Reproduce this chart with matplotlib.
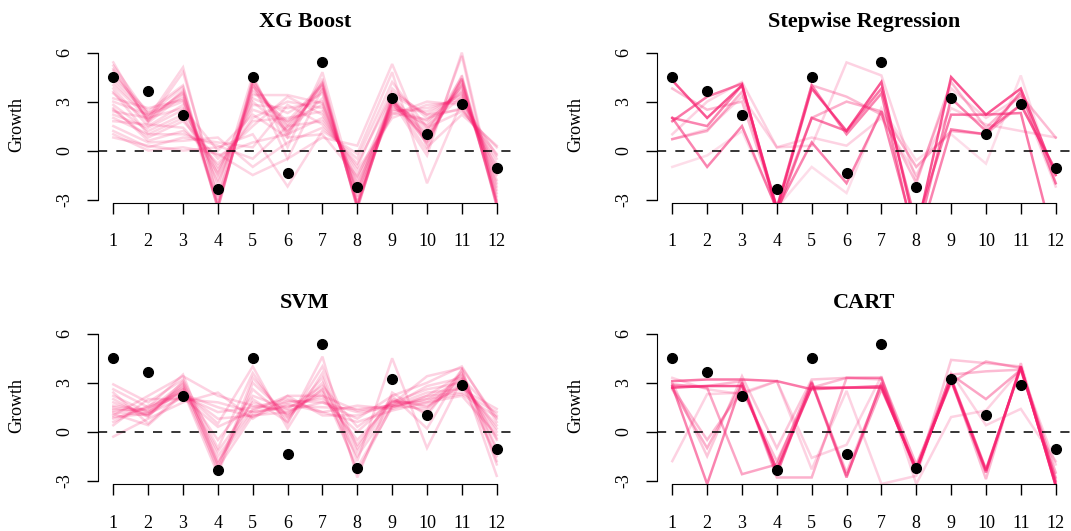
import matplotlib
matplotlib.use("Agg")
import matplotlib.pyplot as plt

plt.rcParams['font.family'] = ['Liberation Serif', 'DejaVu Serif']

months = list(range(1, 13))
tick_labels = [str(m) for m in months]
y_ticks = [-3, 0, 3, 6]

# observed growth (black points)
actual = [4.5, 3.65, 2.2, -2.35, 4.5, -1.35, 5.4, -2.25, 3.2, 1.0, 2.85, -1.05]

# predicted paths, one list per fitted model
xgb_paths = [
    [5.2, 2.2, 3.9, -3.5, 4.3, 1.0, 4.2, -3.5, 3.1, 0.5, 4.4, -3.3],
    [4.9, 1.9, 3.6, -3.3, 4.0, 1.3, 3.9, -3.4, 2.9, 0.7, 4.2, -3.1],
    [4.6, 2.4, 4.0, -3.6, 4.4, 0.8, 4.4, -3.6, 3.3, 0.4, 4.6, -3.4],
    [5.4, 1.7, 3.4, -3.2, 3.8, 1.5, 3.7, -3.3, 3.4, 0.9, 4.0, -3.0],
    [4.2, 2.1, 3.5, -2.8, 3.6, 1.8, 4.1, -3.2, 2.8, 1.1, 4.5, -2.8],
    [3.8, 1.5, 2.8, -2.0, 3.2, 2.3, 3.5, -2.8, 2.6, 1.6, 3.9, -2.4],
    [3.2, 2.6, 3.1, -1.5, 2.8, 2.6, 3.0, -2.5, 3.6, 2.2, 3.5, -2.0],
    [2.8, 1.2, 2.2, -1.0, 2.0, 3.0, 2.6, -2.0, 2.4, 2.6, 3.2, -1.5],
    [2.5, 0.8, 1.8, -0.5, 1.5, 3.3, 2.2, -1.5, 2.2, 3.0, 2.8, -1.0],
    [2.0, 1.0, 1.0, 0.3, -0.5, 1.5, 1.8, -1.0, 3.8, 2.0, 2.6, -0.5],
    [1.5, 0.5, 0.6, 0.8, -1.0, 0.5, 1.4, -0.5, 4.2, 1.4, 2.4, 0.2],
    [1.0, 0.0, 0.2, -0.2, -1.5, -0.5, 0.8, 0.3, 5.3, 0.2, 2.2, 0.3],
    [0.8, 0.3, 0.0, 0.2, 1.0, -2.2, 1.2, -0.2, 4.8, -2.0, 3.0, -0.3],
    [3.5, 1.8, 4.8, -2.5, 4.6, 0.2, 4.8, -3.0, 3.2, 0.0, 5.8, -3.5],
    [4.0, 2.0, 5.1, -3.0, 4.1, -0.5, 3.8, -3.3, 3.0, -0.3, 6.0, -3.2],
    [2.2, 1.4, 2.5, -1.2, 2.5, 1.8, 2.8, -2.2, 2.7, 1.8, 3.6, -1.8],
    [3.0, 2.2, 3.0, -1.8, 3.0, 1.2, 3.2, -2.6, 3.0, 1.3, 4.0, -2.2],
    [1.8, 1.6, 1.4, -0.8, 1.8, 2.0, 2.4, -1.8, 2.5, 2.4, 3.4, -1.2],
    [2.6, 0.6, 1.2, -0.3, 0.5, 1.0, 2.0, -1.2, 2.0, 2.8, 3.0, -0.8],
    [4.4, 2.3, 3.2, -3.4, 4.0, 1.6, 4.0, -3.5, 3.1, 0.8, 4.3, -3.3],
    [5.0, 1.8, 3.7, -3.5, 4.2, 1.1, 4.1, -3.4, 3.2, 0.6, 4.4, -3.2],
    [1.2, 0.2, 0.8, 0.5, 0.2, 2.8, 1.6, -0.8, 3.4, 2.2, 2.5, -0.2],
    [3.6, 1.0, 2.0, -1.4, 3.4, 3.4, 2.9, -2.4, 2.3, 1.9, 3.7, -2.6],
    [2.4, 2.0, 2.6, 0.0, 2.2, 0.8, 1.0, -1.6, 2.9, 1.5, 3.3, -1.4],
]

step_paths = [
    [4.3, 2.0, 4.0, -3.6, 3.8, 1.2, 4.2, -5.0, 4.5, 2.2, 3.8, -1.5],
    [1.8, 3.3, 4.1, -3.8, 2.0, 1.2, 3.8, -4.5, 2.2, 2.2, 2.3, -6.0],
    [2.0, 1.5, 4.0, -3.5, 4.0, 1.0, 3.5, -6.0, 1.3, 1.0, 3.6, -2.0],
    [2.0, -1.0, 1.5, -3.6, 0.5, -2.0, 2.4, -5.5, 3.2, 1.2, 2.8, -1.2],
    [0.7, 1.3, 3.3, 0.2, 0.8, 0.3, 2.0, -1.5, 2.6, 1.6, 1.2, 0.8],
    [-1.0, -0.3, 1.2, -3.5, -1.0, -2.6, 2.6, -0.6, 1.0, -0.8, 4.6, -2.0],
    [1.0, 3.0, 4.2, 0.2, 0.3, 5.4, 4.6, -1.8, 3.8, 2.0, 3.3, -2.2],
    [3.8, 2.5, 3.0, -3.5, 4.0, 3.3, 2.2, -2.0, 4.2, 1.4, 3.4, 0.8],
    [0.7, 1.2, 3.6, -3.5, 2.0, 3.0, 2.4, -1.0, 1.2, 1.0, 2.8, -1.2],
]
step_alpha = [0.75, 0.6, 0.55, 0.55, 0.2, 0.15, 0.2, 0.3, 0.35]

svm_paths = [
    [1.4, 1.1, 2.8, -1.8, 1.2, 1.5, 2.2, -0.5, 1.8, 1.8, 3.0, 0.0],
    [1.2, 1.0, 2.6, -2.2, 1.0, 1.2, 2.4, -1.5, 1.6, 2.0, 3.2, -0.5],
    [1.6, 1.3, 3.0, -1.5, 1.4, 1.8, 2.0, 0.0, 1.9, 1.6, 2.8, 0.4],
    [2.2, 1.2, 2.5, -2.6, 3.0, 1.0, 2.6, -2.2, 1.5, 2.2, 3.5, -1.0],
    [2.9, 1.8, 3.2, -1.0, 3.6, 0.5, 4.6, -2.8, 2.4, 1.0, 3.8, -2.0],
    [0.8, 1.5, 2.2, 1.2, 1.5, 2.0, 1.2, 1.6, 1.4, 2.2, 2.4, 1.2],
    [0.4, 2.0, 2.0, 1.8, 1.2, 1.6, 1.5, 1.4, 1.6, 2.4, 2.6, 1.4],
    [-0.3, 0.8, 1.8, 2.4, 0.8, 2.2, 1.0, 1.0, 1.7, 3.4, 3.9, 0.8],
    [1.0, 2.2, 3.4, 2.2, 1.6, 1.3, 1.8, 0.8, 2.2, 3.0, 4.0, 0.6],
    [2.4, 0.5, 2.4, 0.5, 4.0, 0.2, 3.6, -1.8, 4.5, -1.0, 3.2, -0.4],
    [1.8, 1.0, 2.9, -2.0, 2.6, 0.8, 3.0, -1.2, 1.9, 1.2, 3.4, -2.7],
    [1.3, 1.4, 2.7, -1.2, 1.8, 1.1, 2.6, -0.8, 2.0, 1.5, 2.9, -1.5],
    [0.6, 1.6, 2.4, 0.8, 1.0, 1.9, 1.8, 1.2, 1.5, 2.0, 2.3, 0.9],
    [2.0, 0.9, 3.1, -2.4, 3.3, 0.9, 3.3, -2.5, 1.6, 1.4, 3.6, -1.2],
    [1.5, 1.2, 2.6, -0.5, 2.2, 1.4, 2.8, 0.3, 1.8, 2.6, 3.0, 0.2],
    [1.1, 0.4, 2.3, 1.5, 0.9, 1.7, 1.2, 0.6, 1.3, 1.8, 2.2, -0.2],
    [2.6, 1.5, 3.5, -2.0, 2.0, 0.6, 4.0, -1.0, 2.2, 0.2, 3.8, -1.8],
    [0.9, 1.1, 2.1, 0.3, 1.3, 2.2, 2.2, 1.3, 1.6, 2.8, 3.3, 1.0],
]

cart_paths = [
    [2.7, 2.8, 2.8, -2.3, 2.7, 2.7, 2.7, -2.3, 3.2, -2.4, 4.0, -3.3],
    [3.1, 3.2, 3.2, 3.1, 2.6, 2.7, 2.8, -2.4, 3.3, -2.3, 3.9, -3.2],
    [2.8, -3.2, 3.0, -2.6, 3.0, -2.8, 3.0, -2.3, 3.1, -2.5, 4.0, -3.3],
    [2.9, 2.7, -2.6, -2.0, 3.1, -2.7, 2.6, -2.2, 3.5, 2.0, 3.8, -2.8],
    [2.6, -1.0, 3.0, -2.8, -2.8, 3.3, 3.3, -2.0, 3.0, 4.3, 3.9, -2.5],
    [-1.8, 2.3, 2.4, 3.1, -1.6, -0.8, 3.4, -3.2, 0.9, 1.3, 3.8, -2.0],
    [3.0, -1.5, 3.4, -1.0, 3.2, 3.3, 3.2, -2.6, 4.4, 4.2, 4.0, -3.0],
    [3.3, 2.6, 2.3, 3.1, -2.3, 2.5, -3.2, -2.7, 3.6, 0.4, 1.4, -1.8],
    [2.7, -0.5, 2.5, -1.8, 2.7, 3.3, 3.3, -2.5, 3.5, 3.7, 3.8, -3.0],
    [2.8, 2.8, 3.1, -2.5, 3.0, -2.5, 2.9, -2.4, 3.2, -2.9, 4.2, -3.1],
]
cart_alpha = [0.75, 0.6, 0.55, 0.4, 0.35, 0.2, 0.25, 0.2, 0.3, 0.3]

line_color = '#F7206F'

fig = plt.figure(figsize=(10.71, 5.31), dpi=100)
boxes = [
    [0.0915, 0.618, 0.3866, 0.294],
    [0.6134, 0.618, 0.3866, 0.294],
    [0.0915, 0.0885, 0.3866, 0.294],
    [0.6134, 0.0885, 0.3866, 0.294],
]
panels = [
    ('XG Boost', xgb_paths, [0.19] * len(xgb_paths)),
    ('Stepwise Regression', step_paths, step_alpha),
    ('SVM', svm_paths, [0.2] * len(svm_paths)),
    ('CART', cart_paths, cart_alpha),
]

for box, (title, paths, alphas) in zip(boxes, panels):
    ax = fig.add_axes(box)
    for path, a in zip(paths, alphas):
        ax.plot(months, path, color=line_color, alpha=a, lw=1.8,
                solid_joinstyle='miter')
    ax.axhline(0, color='black', lw=1.1, ls=(0, (6, 6)), zorder=3)
    ax.plot(months, actual, 'o', color='black', ms=7, zorder=4)

    ax.set_xlim(0.56, 12.44)
    ax.set_ylim(-3.2, 6.36)
    ax.spines['top'].set_visible(False)
    ax.spines['right'].set_visible(False)
    ax.spines['left'].set_bounds(-3, 6)
    ax.spines['bottom'].set_bounds(1, 12)
    ax.set_xticks(months)
    ax.set_xticklabels(tick_labels)
    ax.set_yticks(y_ticks)
    ax.set_yticklabels([str(v) for v in y_ticks], rotation=90, va='center')
    ax.tick_params(length=8, width=1, labelsize=13)
    ax.tick_params(axis='x', pad=14)
    ax.tick_params(axis='y', pad=10)
    ax.set_ylabel('Growth', fontsize=13)
    ax.yaxis.set_label_coords(-0.175, 0.5)
    ax.set_title(title, fontsize=16, fontweight='bold', pad=14)

fig.savefig('out.png', dpi=100)
